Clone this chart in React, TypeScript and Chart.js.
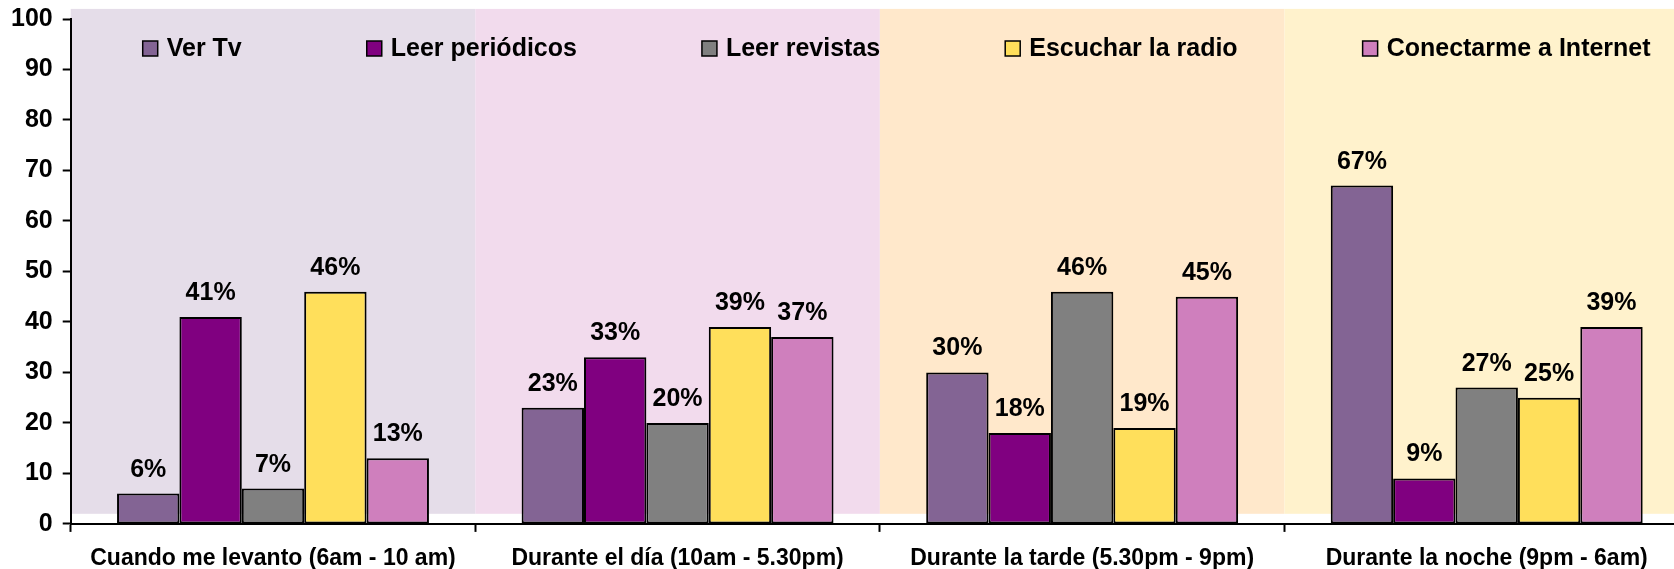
import React, { useEffect, useRef } from "react";
import { Chart, registerables } from "chart.js";

Chart.register(...registerables);

const categories = [
  "Cuando me levanto (6am - 10 am)",
  "Durante el día (10am - 5.30pm)",
  "Durante la tarde (5.30pm - 9pm)",
  "Durante la noche (9pm - 6am)",
];
const seriesNames = ["Ver Tv", "Leer periódicos", "Leer revistas", "Escuchar la radio", "Conectarme a Internet"];
const verTv = [6, 23, 30, 67];
const leerPeriodicos = [41, 33, 18, 9];
const leerRevistas = [7, 20, 46, 27];
const escucharRadio = [46, 39, 19, 25];
const conectarmeInternet = [13, 37, 45, 39];
const seriesColors = ["#836494", "#800080", "#808080", "#FFDF5B", "#CF7FBD"];
const bandColors = ["#E5DDE9", "#F2DBED", "#FFE8CB", "#FFF2CC"];
const yMin = 0;
const yMax = 100;
const yStep = 10;

const FONT = "'Liberation Sans', Arial, sans-serif";

const bandsPlugin = {
  id: "bands",
  beforeDraw(chart: any) {
    const { ctx, chartArea } = chart;
    const x = chart.scales.x;
    const y = chart.scales.y;
    ctx.save();
    ctx.fillStyle = "#ffffff";
    ctx.fillRect(0, 0, chart.width, chart.height);
    const n = categories.length;
    const w = (x.right - x.left) / n;
    const top = y.getPixelForValue(102);
    const bottom = y.getPixelForValue(2);
    for (let i = 0; i < n; i++) {
      const c = x.getPixelForValue(i);
      const l = Math.max(chartArea.left, c - w / 2);
      const r = c + w / 2;
      ctx.fillStyle = bandColors[i % bandColors.length];
      ctx.fillRect(l, top, r - l, bottom - top);
    }
    ctx.restore();
  },
};

const labelsPlugin = {
  id: "valueLabels",
  afterDatasetsDraw(chart: any) {
    const { ctx } = chart;
    ctx.save();
    ctx.font = `bold 25px ${FONT}`;
    ctx.fillStyle = "#000";
    ctx.textAlign = "center";
    ctx.textBaseline = "alphabetic";
    chart.data.datasets.forEach((ds: any, di: number) => {
      const meta = chart.getDatasetMeta(di);
      meta.data.forEach((el: any, i: number) => {
        ctx.fillText(`${ds.data[i]}%`, el.x, el.y - 17);
      });
    });
    ctx.restore();
  },
};

const legendPlugin = {
  id: "customLegend",
  afterDraw(chart: any) {
    const { ctx, chartArea } = chart;
    ctx.save();
    ctx.font = `bold 25px ${FONT}`;
    ctx.textBaseline = "middle";
    ctx.textAlign = "left";
    let x = chartArea.left + 72;
    const yc = 48.5;
    chart.data.datasets.forEach((ds: any) => {
      ctx.fillStyle = ds.backgroundColor;
      ctx.fillRect(x, yc - 7.5, 15, 15);
      ctx.lineWidth = 1.5;
      ctx.strokeStyle = "#000";
      ctx.strokeRect(x, yc - 7.5, 15, 15);
      ctx.fillStyle = "#000";
      ctx.fillText(ds.label, x + 24, yc + 1);
      const tw = ctx.measureText(ds.label).width;
      x += 24 + tw + 125;
    });
    ctx.restore();
  },
};

export default function App() {
  const ref = useRef<HTMLCanvasElement | null>(null);
  useEffect(() => {
    if (!ref.current) return;
    const series = [verTv, leerPeriodicos, leerRevistas, escucharRadio, conectarmeInternet];
    const chart = new Chart(ref.current, {
      type: "bar",
      data: {
        labels: categories,
        datasets: series.map((d, i) => ({
          label: seriesNames[i],
          data: d,
          backgroundColor: seriesColors[i],
          borderColor: "#000",
          borderWidth: 2,
          borderSkipped: false,
          categoryPercentage: 0.771,
          barPercentage: 1,
        })),
      },
      options: {
        responsive: false,
        animation: false,
        devicePixelRatio: 1,
        layout: { padding: { top: 19, right: 11, left: 1, bottom: 0.5 } },
        plugins: {
          legend: { display: false },
          tooltip: { enabled: false },
        },
        scales: {
          x: {
            grid: {
              display: true,
              drawOnChartArea: false,
              drawTicks: true,
              tickLength: 8,
              tickColor: "#000",
              tickWidth: 2,
              offset: true,
            },
            border: { display: true, color: "#000", width: 2 },
            ticks: {
              color: "#000",
              font: { family: FONT, size: 23, weight: "bold" },
              padding: 13,
              maxRotation: 0,
              autoSkip: false,
            },
          },
          y: {
            min: yMin,
            max: yMax,
            grid: {
              display: true,
              drawOnChartArea: false,
              drawTicks: true,
              tickLength: 8,
              tickColor: "#000",
              tickWidth: 2,
            },
            border: { display: true, color: "#000", width: 2 },
            ticks: {
              stepSize: yStep,
              color: "#000",
              font: { family: FONT, size: 25, weight: "bold", lineHeight: 0.6 },
              padding: 10,
            },
          },
        },
      },
      plugins: [bandsPlugin, labelsPlugin, legendPlugin],
    });
    return () => chart.destroy();
  }, []);
  return (
    <div style={{ position: "fixed", left: 0, top: 0, width: 1674, height: 569, overflow: "hidden", background: "#fff" }}>
      <canvas ref={ref} width={1700} height={586} style={{ display: "block", width: 1700, height: 586 }} />
    </div>
  );
}
